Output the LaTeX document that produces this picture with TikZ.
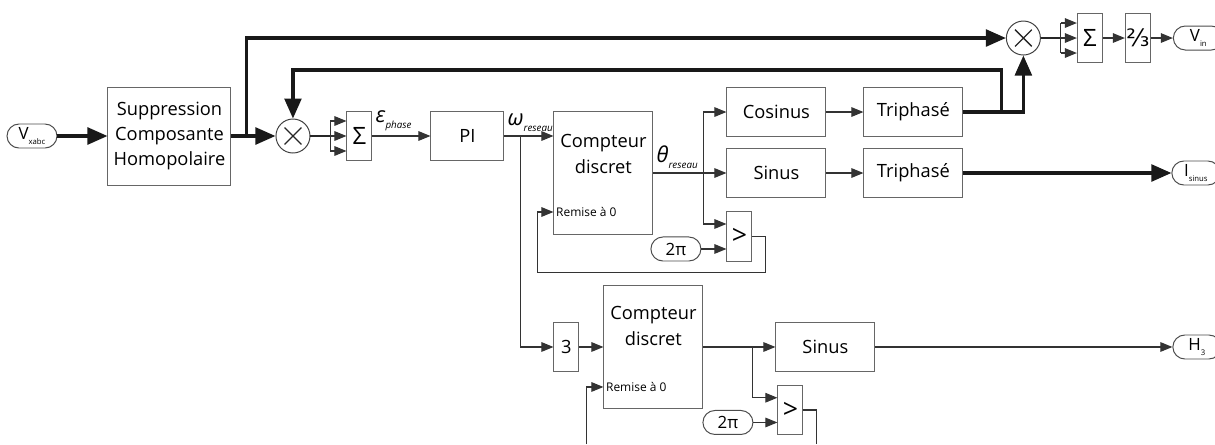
\documentclass[tikz,border=0pt]{standalone}
\usepackage{fontspec}
\setmainfont{Open Sans}
\newfontfamily\symfont{DejaVu Sans}
\usetikzlibrary{arrows.meta,positioning}
\newcommand{\lowidx}[2][5.5]{\raisebox{-0.5ex}{\fontsize{#1}{#1}\selectfont #2}}

\begin{document}
\begin{tikzpicture}[
  box/.style={draw=black!60, line width=0.7pt, fill=white, inner sep=0pt, align=center,
              minimum width=24.75mm, minimum height=12.25mm, font=\fontsize{13}{18}\selectfont},
  narrow/.style={box, minimum width=6.25mm},
  counter/.style={box, minimum height=30.75mm},
  term/.style={draw=black!70, line width=0.7pt, rounded corners=3mm, minimum width=12.5mm,
               minimum height=6mm, inner sep=0pt, fill=white, font=\fontsize{12}{12}\selectfont},
  mult/.style={circle, draw=black!75, line width=0.7pt, minimum size=8.5mm, inner sep=0pt,
               path picture={\draw[line width=0.9pt, black!85]
                 ([shift={(-2.1mm,-2.1mm)}]path picture bounding box.center) -- ([shift={(2.1mm,2.1mm)}]path picture bounding box.center)
                 ([shift={(-2.1mm,2.1mm)}]path picture bounding box.center) -- ([shift={(2.1mm,-2.1mm)}]path picture bounding box.center);}},
  sig/.style={inner sep=1pt, font=\itshape\fontsize{15.5}{15.5}\selectfont},
  reset/.style={inner sep=0.6pt, font=\fontsize{8.5}{10}\selectfont},
  line/.style={draw=black!80, line width=0.75pt},
  arrow/.style={line, -{Triangle[length=3mm, width=2.4mm]}},
  bus/.style={draw=black!90, line width=2.2pt},
  busarrow/.style={bus, -{Triangle[length=5mm, width=4.2mm]}},
  mid/.style={draw=black!85, line width=1.4pt}
]
\path[use as bounding box] (-8mm,34mm) rectangle (295.75mm,-77mm);
\coordinate (floor) at (0,-77mm);

% main chain
\node[term] (vx) at (0,0) {V\lowidx{xabc}};
\node[box, right=12.5mm of vx, minimum width=30.75mm, minimum height=24.5mm] (sup) {Suppression\\Composante\\Homopolaire};
\node[mult, right=11mm of sup] (mul1) {};
\node[narrow, right=9mm of mul1, font=\fontsize{17}{17}\selectfont] (sum1) {Σ};
\node[box, right=14.5mm of sum1, minimum width=18.25mm] (pi) {PI};
\node[counter, right=12.25mm of pi.north east, anchor=north west] (cnt1) {};
\node[align=center, font=\fontsize{13}{18}\selectfont] (cnt1t) at ([yshift=4.75mm]cnt1.center) {Compteur\\discret};
\node[reset, anchor=west] (rst1) at ([shift={(0.4mm,5.75mm)}]cnt1.south west) {Remise à 0};
\node[box, right=18.25mm of cnt1] (sin1) {Sinus};
\node[box, above=2.75mm of sin1] (cos) {Cosinus};
\node[box, right=9.25mm of cos] (tri1) {Triphasé};
\node[box, right=9.25mm of sin1] (tri2) {Triphasé};
\node[narrow, minimum height=12.5mm, below=3.25mm of sin1.south west, anchor=north west, font=\fontsize{19}{19}\selectfont] (cmp1) {>};
\node[term, left=6.25mm of cmp1.west, yshift=-3.125mm] (tpi1) {2π};

% output side
\node[mult] (mul2) at ([shift={(15mm,18.5mm)}]tri1.east) {};
\node[narrow, right=9mm of mul2, font=\fontsize{17}{17}\selectfont] (sum2) {Σ};
\node[narrow, right=5.5mm of sum2, font=\symfont\fontsize{17}{17}\selectfont] (frac) {⅔};
\node[term, right=5.5mm of frac] (vin) {V\lowidx{in}};
\node[term, right=52mm of tri2, minimum width=12mm] (isin) {I\lowidx{sinus}};

% third harmonic
\node[narrow, below=21.75mm of cnt1.south west, anchor=north west] (three) {3};
\node[counter, right=6mm of three] (cnt2) {};
\node[align=center, font=\fontsize{13}{18}\selectfont] (cnt2t) at ([yshift=5.25mm]cnt2.center) {Compteur\\discret};
\node[reset, anchor=west] (rst2) at ([shift={(0.4mm,5.5mm)}]cnt2.south west) {Remise à 0};
\node[box, right=18mm of cnt2] (sin2) {Sinus};
\node[narrow, below=3.25mm of sin2.south west, anchor=north west, xshift=0.5mm, font=\fontsize{19}{19}\selectfont] (cmp2) {>};
\node[term, left=6mm of cmp2.west, yshift=-3.125mm] (tpi2) {2π};
\node[term, right=74.25mm of sin2, minimum width=12mm] (h3) {H\lowidx{3}};

% signal names
\node[sig, anchor=south west] (eps) at ([shift={(0.4mm,0.8mm)}]sum1.east) {ε\lowidx[7]{phase}};
\node[sig, anchor=south west] (omg) at ([shift={(0.4mm,0.8mm)}]pi.east) {ω\lowidx[7]{reseau}};
\node[sig, anchor=south west] (tht) at ([shift={(0.4mm,0.8mm)}]cnt1.east) {θ\lowidx[7]{reseau}};

% thick connectors
\draw[busarrow] (vx) -- (sup);
\draw[busarrow] (sup) -- (mul1);
\coordinate (tap1) at ([xshift=3.75mm]sup.east);
\draw[busarrow] (tap1) |- (mul2);
\draw[busarrow] (tri1.east) -- ++(9.5mm,0) |- ([yshift=16.5mm]mul1.center) -- (mul1);
\draw[busarrow] (tri1.east) -| (mul2);
\draw[busarrow] (tri2) -- (isin);

% first sum
\draw[mid] (mul1) -- ([xshift=-4mm]sum1.west) coordinate (f1);
\draw[line] ([yshift=3.75mm]f1) -- ([yshift=-3.75mm]f1);
\draw[arrow] ([yshift=3.75mm]f1) -- ([yshift=3.75mm]sum1.west);
\draw[arrow] (f1) -- (sum1);
\draw[arrow] ([yshift=-3.75mm]f1) -- ([yshift=-3.75mm]sum1.west);
\draw[arrow] (sum1) -- (pi);
\draw[arrow] (pi.east) -- (pi.east -| cnt1.west);
\coordinate (tap2) at ([xshift=4mm]pi.east);
\draw[arrow] (tap2) |- (three);

% first counter
\draw[arrow] (cnt1.east) -- (cnt1.east -| sin1.west);
\coordinate (tap3) at ([xshift=12.5mm]cnt1.east);
\draw[arrow] (tap3) |- (cos);
\draw[arrow] (tap3) |- ([yshift=3.125mm]cmp1.west);
\draw[arrow] (tpi1) -- (tpi1 -| cmp1.west);
\draw[arrow] (cmp1.east) -- ++(3.25mm,0) -- ++(0,-9mm) -| ([xshift=-4mm]rst1.west -| cnt1.west) -- (rst1.west -| cnt1.west);
\draw[arrow] (cos) -- (tri1);
\draw[arrow] (sin1) -- (tri2);

% second sum
\draw[mid] (mul2) -- ([xshift=-4mm]sum2.west) coordinate (f2);
\draw[line] ([yshift=3.75mm]f2) -- ([yshift=-3.75mm]f2);
\draw[arrow] ([yshift=3.75mm]f2) -- ([yshift=3.75mm]sum2.west);
\draw[arrow] (f2) -- (sum2);
\draw[arrow] ([yshift=-3.75mm]f2) -- ([yshift=-3.75mm]sum2.west);
\draw[arrow] (sum2) -- (frac);
\draw[arrow] (frac) -- (vin);

% second counter
\draw[arrow] (three) -- (cnt2);
\draw[arrow] (cnt2) -- (sin2);
\coordinate (tap4) at ([xshift=12.25mm]cnt2.east);
\draw[arrow] (tap4) |- ([yshift=3.06mm]cmp2.west);
\draw[arrow] (tpi2) -- (tpi2 -| cmp2.west);
\draw[line] (cmp2.east) -- ++(3.25mm,0) coordinate (c2r) -- (c2r |- floor);
\coordinate (c2l) at ([xshift=-4.25mm]rst2.west -| cnt2.west);
\draw[arrow] (c2l |- floor) -- (c2l) -- (rst2.west -| cnt2.west);
\draw[arrow] (sin2) -- (h3);
\end{tikzpicture}
\end{document}
